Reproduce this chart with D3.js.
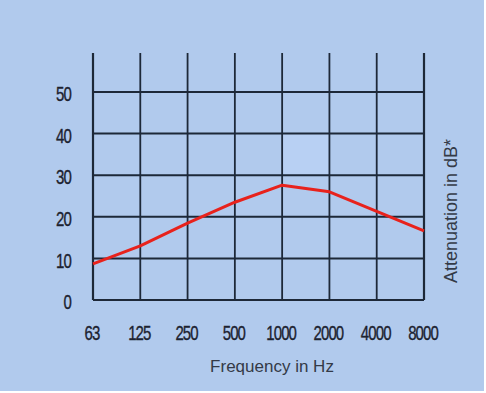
<!DOCTYPE html>
<html lang="en">
<head>
  <meta charset="UTF-8">
  <title>Attenuation by frequency</title>
  <style>
    body { margin: 0; background: #fff; }
    .tick-label { font-family: "Liberation Sans", Arial, sans-serif; font-size: 20px; fill: #1c2230; stroke: #1c2230; stroke-width: 0.35px; letter-spacing: -1.2px; }
    .axis-title { font-family: "Liberation Sans", Arial, sans-serif; fill: #343a47; }
  </style>
</head>
<body>
  <script src="https://d3js.org/d3.v7.min.js"></script>
  <script>
    const frequencies = ["63", "125", "250", "500", "1000", "2000", "4000", "8000"];
    const attenuation = [8.7, 13, 18.5, 23.5, 27.6, 26, 21.3, 16.6];
    const yTicks = [0, 10, 20, 30, 40, 50];

    const width = 486, height = 393;
    const squeeze = 0.75; // the original uses a condensed face

    const svg = d3.select("body").append("svg")
      .attr("width", width)
      .attr("height", height);

    svg.append("rect")
      .attr("width", width - 2).attr("height", height - 2)
      .attr("fill", "#b1caed");

    const x = d3.scalePoint()
      .domain(frequencies)
      .range([93, 424]);

    const y = d3.scaleLinear()
      .domain([0, 50])
      .range([300, 92]);

    // lighter patch in the 1000-2000 / 30-40 cell
    svg.append("rect")
      .attr("x", x("1000")).attr("y", y(40))
      .attr("width", x("2000") - x("1000")).attr("height", y(30) - y(40))
      .attr("fill", "#b8d0f3");

    const grid = svg.append("g").attr("stroke", "#1d2838");

    grid.selectAll("line.v")
      .data(frequencies)
      .join("line")
      .attr("class", "v")
      .attr("x1", d => x(d)).attr("x2", d => x(d))
      .attr("y1", 53).attr("y2", y(0))
      .attr("stroke-width", (d, i) => (i === 0 || i === frequencies.length - 1) ? 2.2 : 1.8);

    grid.selectAll("line.h")
      .data(yTicks)
      .join("line")
      .attr("class", "h")
      .attr("x1", x("63")).attr("x2", x("8000"))
      .attr("y1", d => y(d)).attr("y2", d => y(d))
      .attr("stroke-width", 2);

    svg.append("path")
      .datum(attenuation)
      .attr("fill", "none")
      .attr("stroke", "#e8221c")
      .attr("stroke-width", 3)
      .attr("stroke-linejoin", "round")
      .attr("d", d3.line()
        .x((d, i) => x(frequencies[i]))
        .y(d => y(d)));

    svg.selectAll("text.ylab")
      .data(yTicks)
      .join("text")
      .attr("class", "tick-label ylab")
      .attr("transform", d => `translate(71,${y(d) + 4}) scale(${squeeze},1)`)
      .attr("text-anchor", "end")
      .attr("dominant-baseline", "middle")
      .text(d => d);

    svg.selectAll("text.xlab")
      .data(frequencies)
      .join("text")
      .attr("class", "tick-label xlab")
      .attr("transform", d => `translate(${x(d) - 1},335) scale(${squeeze},1)`)
      .attr("text-anchor", "middle")
      .attr("dominant-baseline", "middle")
      .text(d => d);

    svg.append("text")
      .attr("class", "axis-title")
      .attr("x", 272).attr("y", 368)
      .attr("text-anchor", "middle")
      .attr("dominant-baseline", "middle")
      .style("font-size", "17px")
      .text("Frequency in Hz");

    svg.append("text")
      .attr("class", "axis-title")
      .attr("transform", "translate(452,211) rotate(-90)")
      .attr("text-anchor", "middle")
      .attr("dominant-baseline", "middle")
      .style("font-size", "18px")
      .text("Attenuation in dB*");
  </script>
</body>
</html>
